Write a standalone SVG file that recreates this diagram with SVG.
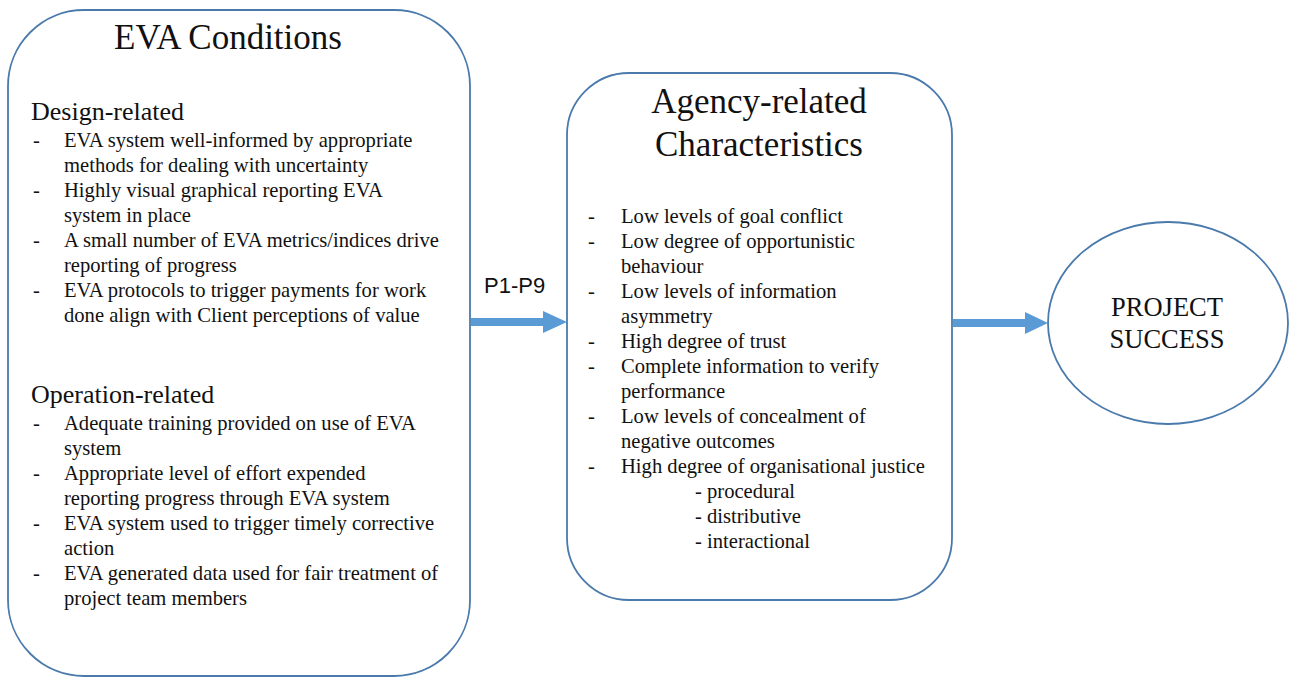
<svg xmlns="http://www.w3.org/2000/svg" width="1296" height="677" viewBox="0 0 1296 677">
<style>
.box{fill:#fff;stroke:#4A7AAB;stroke-width:1.8}
.t{font-family:"Liberation Serif","Times New Roman",serif;fill:#111}
.title{font-size:35px;text-anchor:middle}
.head{font-size:26px}
.b{font-size:20.6px}
.lbl{font-family:"Liberation Sans",Arial,sans-serif;font-size:22px;fill:#111}
.arr{stroke:#5B9BD5;stroke-width:8;fill:none}
.ah{fill:#5B9BD5}
</style>
<rect width="1296" height="677" fill="#fff"/>
<g id="eva-conditions">
<rect class="box" x="8" y="10" width="462" height="666" rx="76" ry="76"/>
<text class="t title" x="228" y="49">EVA Conditions</text>
<text class="t head" x="31" y="120">Design-related</text>
<g class="t b">
<text x="33" y="147">-</text><text x="64" y="147">EVA system well-informed by appropriate</text>
<text x="64" y="172">methods for dealing with uncertainty</text>
<text x="33" y="197">-</text><text x="64" y="197">Highly visual graphical reporting EVA</text>
<text x="64" y="222">system in place</text>
<text x="33" y="247">-</text><text x="64" y="247">A small number of EVA metrics/indices drive</text>
<text x="64" y="272">reporting of progress</text>
<text x="33" y="297">-</text><text x="64" y="297">EVA protocols to trigger payments for work</text>
<text x="64" y="322">done align with Client perceptions of value</text>
</g>
<text class="t head" x="31" y="403">Operation-related</text>
<g class="t b">
<text x="33" y="430">-</text><text x="64" y="430">Adequate training provided on use of EVA</text>
<text x="64" y="455">system</text>
<text x="33" y="480">-</text><text x="64" y="480">Appropriate level of effort expended</text>
<text x="64" y="505">reporting progress through EVA system</text>
<text x="33" y="530">-</text><text x="64" y="530">EVA system used to trigger timely corrective</text>
<text x="64" y="555">action</text>
<text x="33" y="580">-</text><text x="64" y="580">EVA generated data used for fair treatment of</text>
<text x="64" y="605">project team members</text>
</g>
</g>
<g id="agency-characteristics">
<rect class="box" x="567" y="73" width="385" height="527" rx="62" ry="62"/>
<text class="t title" x="759" y="113">Agency-related</text>
<text class="t title" x="759" y="156">Characteristics</text>
<g class="t b">
<text x="588" y="223">-</text><text x="621" y="223">Low levels of goal conflict</text>
<text x="588" y="248">-</text><text x="621" y="248">Low degree of opportunistic</text>
<text x="621" y="273">behaviour</text>
<text x="588" y="298">-</text><text x="621" y="298">Low levels of information</text>
<text x="621" y="323">asymmetry</text>
<text x="588" y="348">-</text><text x="621" y="348">High degree of trust</text>
<text x="588" y="373">-</text><text x="621" y="373">Complete information to verify</text>
<text x="621" y="398">performance</text>
<text x="588" y="423">-</text><text x="621" y="423">Low levels of concealment of</text>
<text x="621" y="448">negative outcomes</text>
<text x="588" y="473">-</text><text x="621" y="473">High degree of organisational justice</text>
<text x="695" y="498">- procedural</text>
<text x="695" y="523">- distributive</text>
<text x="695" y="548">- interactional</text>
</g>
</g>
<g id="project-success">
<ellipse class="box" cx="1168" cy="323" rx="120" ry="101"/>
<text class="t" x="1167" y="316" font-size="26.5" text-anchor="middle">PROJECT</text>
<text class="t" x="1167" y="348" font-size="26.5" text-anchor="middle">SUCCESS</text>
</g>
<g id="connectors">
<line class="arr" x1="471" y1="322" x2="545" y2="322"/>
<polygon class="ah" points="543,311 567,322 543,333"/>
<text class="lbl" x="484" y="293">P1-P9</text>
<line class="arr" x1="953" y1="323" x2="1027" y2="323"/>
<polygon class="ah" points="1025,312 1048,323 1025,334"/>
</g>
</svg>
